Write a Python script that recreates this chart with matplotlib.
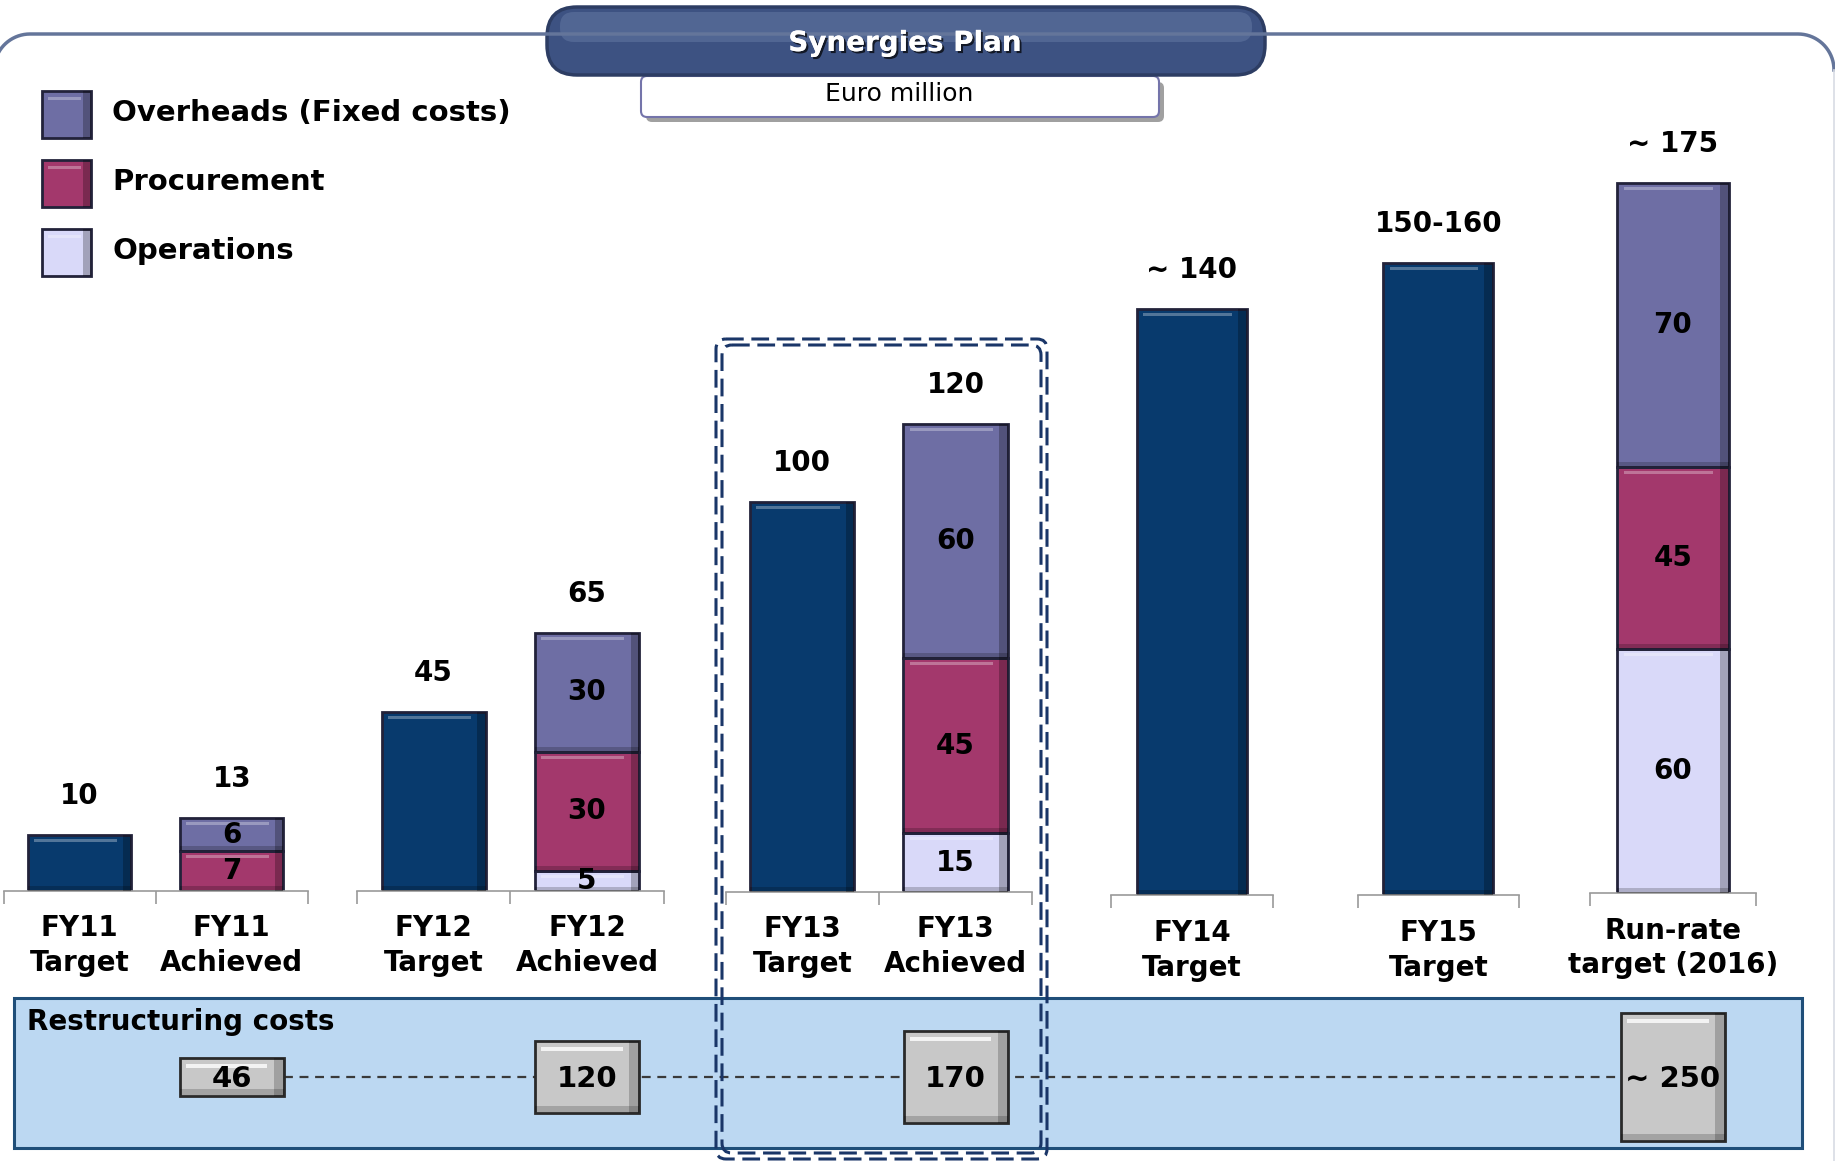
import matplotlib
matplotlib.use('Agg')
import numpy as np
import matplotlib.pyplot as plt
import matplotlib.patheffects as pe
from matplotlib.patches import FancyBboxPatch, Rectangle

# ---- data ----
categories = ['FY11\nTarget', 'FY11\nAchieved', 'FY12\nTarget', 'FY12\nAchieved',
              'FY13\nTarget', 'FY13\nAchieved', 'FY14\nTarget', 'FY15\nTarget',
              'Run-rate\ntarget (2016)']
target = [10, 0, 45, 0, 100, 0, 140, 155, 0]
overheads = [0, 6, 0, 30, 0, 60, 0, 0, 70]
procurement = [0, 7, 0, 30, 0, 45, 0, 0, 45]
operations = [0, 0, 0, 5, 0, 15, 0, 0, 60]
total_labels = ['10', '13', '45', '65', '100', '120', '~ 140', '150-160', '~ 175']
groups = [[0, 1], [2, 3], [4, 5], [6], [7], [8]]

restructuring_at = [1, 3, 5, 8]
restructuring = [46, 120, 170, 250]
restructuring_labels = ['46', '120', '170', '~ 250']

legend_names = ['Overheads (Fixed costs)', 'Procurement', 'Operations']

# ---- style ----
NAVY = '#083a6d'
OVER = '#6e6ea4'
PROC = '#a3386c'
OPS = '#d9d9f9'
EDGE = '#22223a'
plt.rcParams['font.family'] = 'DejaVu Sans'

W, H = 1835, 1161
fig = plt.figure(figsize=(W / 100, H / 100), dpi=100)


def px_axes(x0, x1, y_top, y_bot, z):
    ax = fig.add_axes([x0 / W, 1 - y_bot / H, (x1 - x0) / W, (y_bot - y_top) / H])
    ax.set_zorder(z)
    ax.patch.set_alpha(0)
    return ax


def bevel_bar(ax, x, bottom, h, width, color, ppu):
    ax.bar(x, h, bottom=bottom, width=width, color=color, edgecolor=EDGE,
           linewidth=2, zorder=2)
    # darker right and bottom sides, light strip under the top edge
    ws = width * 0.08
    ax.bar(x + width / 2 - ws / 2, h, bottom=bottom, width=ws, color='black',
           alpha=0.25, linewidth=0, zorder=3)
    hb = min(5 / ppu, h * 0.2)
    ax.bar(x, hb, bottom=bottom, width=width, color='black', alpha=0.2,
           linewidth=0, zorder=3)
    if h * ppu > 16:
        ax.bar(x - ws / 2, 3 / ppu, bottom=bottom + h - 7 / ppu, width=width * 0.8,
               color='white', alpha=0.3, linewidth=0, zorder=3)


# background: frame, title, legend, restructuring panel
bg = px_axes(0, W, 0, H, 0)
bg.set_xlim(0, W)
bg.set_ylim(H, 0)
bg.axis('off')

r, ytop = 36, 34
a = np.linspace(np.pi, np.pi / 2, 20)
left_x = list(-6 + r + r * np.cos(a))
left_y = list(ytop + r - r * np.sin(a))
a = np.linspace(np.pi / 2, 0, 20)
right_x = list(W - 1 - r + r * np.cos(a))
right_y = list(ytop + r - r * np.sin(a))
bg.plot(left_x + right_x, left_y + right_y, color='#64759a', linewidth=2.5)
bg.plot([W - 1, W - 1], [right_y[-1], H], color='#d8dce4', linewidth=1.2)

# subtitle box with shadow
bg.add_patch(FancyBboxPatch((646, 82), 518, 40, boxstyle='round,pad=0,rounding_size=6',
                            facecolor='#a0a0a0', edgecolor='none'))
bg.add_patch(FancyBboxPatch((641, 76), 518, 41, boxstyle='round,pad=0,rounding_size=6',
                            facecolor='white', edgecolor='#7474aa', linewidth=1.5))
bg.text(899, 94, 'Euro million', ha='center', va='center', fontsize=18, color='black')

# title pill
bg.add_patch(FancyBboxPatch((547, 7), 718, 68, boxstyle='round,pad=0,rounding_size=30',
                            facecolor='#3d5282', edgecolor='#2d3d63', linewidth=2.5))
bg.add_patch(FancyBboxPatch((560, 12), 692, 30, boxstyle='round,pad=0,rounding_size=14',
                            facecolor='#5f74a0', edgecolor='none', alpha=0.6))
bg.text(905, 43, 'Synergies Plan', ha='center', va='center', fontsize=20,
        fontweight='bold', color='white',
        path_effects=[pe.withSimplePatchShadow(offset=(1.5, -1.5), shadow_rgbFace='black',
                                               alpha=0.7), pe.Normal()])

# legend
for k, (name, col) in enumerate(zip(legend_names, [OVER, PROC, OPS])):
    y0 = 91 + k * 69
    bg.add_patch(Rectangle((42, y0), 49, 47, facecolor=col, edgecolor=EDGE, linewidth=2))
    bg.add_patch(Rectangle((83, y0), 8, 47, facecolor='black', alpha=0.25, linewidth=0))
    bg.add_patch(Rectangle((48, y0 + 6), 33, 3, facecolor='white', alpha=0.3,
                           linewidth=0))
    bg.text(112, y0 + 22, name, ha='left', va='center', fontsize=21, fontweight='bold')

# restructuring panel
bg.add_patch(Rectangle((14, 998), 1788, 150, facecolor='#bcd8f2', edgecolor='#1f4e79',
                       linewidth=2.2))
bg.text(27, 1022, 'Restructuring costs', ha='left', va='center', fontsize=20,
        fontweight='bold')

# ---- bar groups ----
group_box = [(3.5, 307.8, 890.6, 5.6), (357, 663.6, 890.6, 3.97),
             (725.6, 1032.2, 891.8, 3.9), (1110.6, 1273.3, 895.3, 4.19),
             (1357.5, 1519.1, 895.3, 4.08), (1590.4, 1755.5, 893, 4.06)]
BW = 0.68
cat_axes = {}

for idxs, (x0, x1, base, ppu) in zip(groups, group_box):
    ax = px_axes(x0, x1, 120, base, 1)
    n = len(idxs)
    ax.set_xlim(-0.5, n - 0.5)
    ax.set_ylim(0, (base - 120) / ppu)
    for s in ['top', 'left', 'right']:
        ax.spines[s].set_visible(False)
    ax.spines['bottom'].set_color('#9a9a9a')
    ax.spines['bottom'].set_linewidth(1.2)
    ax.set_yticks([])
    ax.set_xticks([b - 0.5 for b in range(n + 1)])
    ax.set_xticklabels([])
    ax.tick_params(axis='x', which='major', length=9, width=1.2, color='#9a9a9a')
    ax.set_xticks(range(n), minor=True)
    ax.set_xticklabels([categories[i] for i in idxs], minor=True, fontsize=20,
                       fontweight='bold', linespacing=1.3)
    ax.tick_params(axis='x', which='minor', length=0, pad=17)

    for j, i in enumerate(idxs):
        cat_axes[i] = (ax, j)
        if target[i]:
            bevel_bar(ax, j, 0, target[i], BW, NAVY, ppu)
            top = target[i]
        else:
            bottom = 0
            for vals, col in [(operations, OPS), (procurement, PROC), (overheads, OVER)]:
                v = vals[i]
                if v:
                    bevel_bar(ax, j, bottom, v, BW, col, ppu)
                    ax.text(j, bottom + v / 2, str(v), ha='center', va='center',
                            fontsize=20, fontweight='bold', zorder=4)
                    bottom += v
            top = bottom
        ax.annotate(total_labels[i], (j, top), xytext=(0, 18), textcoords='offset points',
                    ha='center', va='bottom', fontsize=20, fontweight='bold')

# ---- restructuring boxes ----
xs = []
for i in restructuring_at:
    ax, j = cat_axes[i]
    xs.append(ax.transData.transform((j, 0))[0])
yc = 1077
heights = [18.7 + 0.436 * v for v in restructuring]
box_w = 104
bg.plot([xs[0] + box_w / 2, xs[-1] - box_w / 2], [yc, yc], color='#3a3a3a',
        linewidth=1.6, linestyle=(0, (4, 3)), zorder=2)
bg.bar(xs, heights, bottom=[yc - h / 2 for h in heights], width=box_w,
       color='#c8c8c8', edgecolor='#2a2a2a', linewidth=2, zorder=3)
bg.bar([x + box_w / 2 - 5 for x in xs], heights, bottom=[yc - h / 2 for h in heights],
       width=10, color='black', alpha=0.2, linewidth=0, zorder=4)
bg.bar(xs, [6] * len(xs), bottom=[yc + h / 2 - 7 for h in heights], width=box_w,
       color='black', alpha=0.18, linewidth=0, zorder=4)
bg.bar([x - 5 for x in xs], [4] * len(xs), bottom=[yc - h / 2 + 6 for h in heights],
       width=box_w * 0.78, color='white', alpha=0.8, linewidth=0, zorder=4)
for x, lab in zip(xs, restructuring_labels):
    bg.text(x, yc + 2, lab, ha='center', va='center', fontsize=21, fontweight='bold',
            zorder=5)

# ---- highlight around FY13 ----
fr = px_axes(0, W, 0, H, 3)
fr.set_xlim(0, W)
fr.set_ylim(H, 0)
fr.axis('off')
for inset in [0, 6]:
    fr.add_patch(FancyBboxPatch((716 + inset, 339 + inset), 331 - 2 * inset,
                                820 - 2 * inset,
                                boxstyle='round,pad=0,rounding_size=10',
                                facecolor='none', edgecolor='#1a3668', linewidth=2.2,
                                linestyle=(0, (5.8, 2.5))))

fig.savefig('out.png', dpi=100)
